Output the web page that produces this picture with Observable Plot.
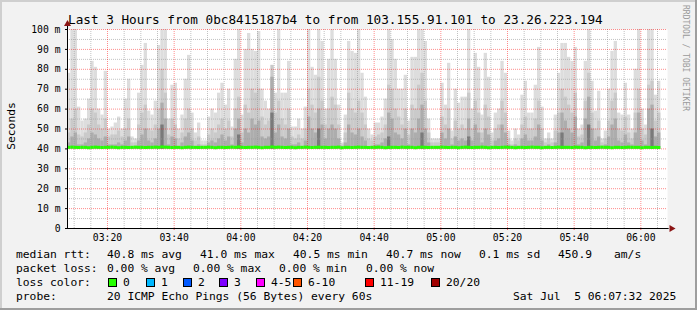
<!DOCTYPE html>
<html><head><meta charset="utf-8">
<script src="https://cdn.jsdelivr.net/npm/d3@7"></script>
<script src="https://cdn.jsdelivr.net/npm/@observablehq/plot@0.6"></script>
<style>
html,body{margin:0;padding:0;background:#f2f2f2;}
#chart svg{display:block}
</style></head><body><div id="chart"></div>
<script>
// ---- data (ms) one column per minute starting 03:08 ----
const startTime = new Date(Date.UTC(2025, 6, 5, 3, 8));
const endTime = new Date(Date.UTC(2025, 6, 5, 6, 8));
const pingTop = [
78,100,100,61,54,55,65,84,81,60,57,79,50,51,53,56,50,65,75,46,45,68,82,93,59,57,64,92,100,100,
55,72,73,50,57,75,87,58,48,53,44,44,56,60,58,68,73,62,70,51,85,100,57,90,98,90,89,99,70,64,
60,75,68,100,68,68,84,51,51,55,50,61,100,81,77,100,94,60,85,100,85,62,43,57,94,89,88,100,78,66,
50,47,53,53,56,65,100,95,85,70,70,77,54,86,86,100,100,94,55,45,45,45,73,62,83,49,70,63,66,66,
100,60,88,81,57,88,76,48,58,60,84,78,49,44,50,47,67,74,58,58,72,91,61,45,48,45,57,78,93,93,
86,84,91,50,52,84,100,74,59,69,45,49,70,89,94,58,57,73,57,50,80,100,60,52,100,100,67,74];
const pingMid = [
48,55,60,47,46,48,52,60,58,52,50,55,46,47,47,49,46,50,55,43,43,52,58,62,50,49,52,60,80,68,
47,55,52,45,48,55,60,50,44,46,42,42,47,50,48,52,55,50,54,46,60,66,48,62,58,70,68,70,56,52,
54,82,58,64,55,52,60,46,45,47,45,50,70,62,58,76,64,52,60,66,62,52,42,48,68,60,58,64,58,52,
45,44,46,47,48,52,72,70,60,56,52,60,47,62,60,72,78,64,48,43,43,43,56,52,60,45,54,50,52,50,
68,50,64,58,48,62,56,44,50,52,64,58,45,42,45,44,52,56,50,50,55,64,50,43,45,43,49,58,70,66,
62,58,68,46,47,64,78,58,50,54,43,45,54,64,68,50,49,56,48,45,58,70,50,47,72,74,54,58];
const pingDark = [
43,46,48,42,42,43,45,48,47,45,44,46,42,42,42,43,42,44,46,41,41,44,47,50,44,43,45,50,63,55,
42,46,45,41,43,46,48,44,41,42,41,41,43,44,43,45,47,44,46,42,50,55,43,50,48,55,52,54,46,45,
46,76,48,52,46,45,50,42,42,43,41,44,56,50,48,60,52,45,50,52,50,45,41,43,52,48,47,50,46,44,
41,41,42,42,43,45,58,55,48,47,45,50,42,50,48,55,62,50,43,41,41,41,48,45,50,42,46,44,45,44,
55,44,52,48,43,50,47,41,44,45,52,48,42,41,42,41,45,47,44,44,46,52,44,41,42,41,43,48,58,54,
50,48,56,42,43,55,66,50,44,46,41,42,46,52,55,44,43,47,43,42,48,58,44,42,60,62,46,48];
const darkCore = [[28,52],[51,47],[61,58],[75,50],[96,46],[106,48],[120,46],[148,48],[156,52],[175,50]];
const medianRtt = [
40.8,40.9,40.8,40.7,40.8,40.8,40.6,40.8,40.9,40.8,40.7,40.8,40.8,40.9,40.8,40.6,40.8,40.8,40.7,40.8,40.9,40.8,40.8,40.7,40.8,40.8,40.9,40.8,41.0,40.9,
40.8,40.7,40.8,40.8,40.6,40.8,40.9,40.8,40.8,40.7,40.8,40.8,40.9,40.8,40.6,40.8,40.8,40.7,40.8,40.9,40.8,41.0,40.8,40.7,40.8,40.8,40.9,40.8,40.6,40.8,
40.8,41.0,40.8,40.9,40.8,40.7,40.8,40.8,40.6,40.8,40.8,40.9,40.8,40.7,40.8,40.9,40.8,40.8,40.7,40.8,40.8,40.9,40.6,40.8,40.8,40.7,40.8,40.9,40.8,40.8,
40.7,40.8,40.8,40.9,40.8,40.6,40.8,40.8,40.8,40.7,40.9,40.8,40.8,40.8,40.6,40.8,40.9,40.8,40.7,40.8,40.8,40.8,40.9,40.8,40.7,40.8,40.8,40.6,40.8,40.9,
40.8,40.7,40.8,40.8,40.9,40.8,40.6,40.8,40.8,40.7,40.8,40.9,40.8,40.8,40.6,40.8,40.8,40.7,40.8,40.9,40.8,40.8,40.6,40.8,40.8,40.7,40.8,40.9,40.8,40.8,
40.8,40.7,40.9,40.8,40.8,40.6,40.8,40.8,40.7,40.8,40.9,40.8,40.8,40.6,40.8,40.8,40.7,40.8,40.9,40.8,40.8,40.8,40.6,40.8,40.8,40.7,40.8,40.7];
const smokeFloor = 39.8;

const yTicks = [0,10,20,30,40,50,60,70,80,90,100];
const yTickLabels = ["0","10 m","20 m","30 m","40 m","50 m","60 m","70 m","80 m","90 m","100 m"];
const xTickLabels = ["03:20","03:40","04:00","04:20","04:40","05:00","05:20","05:40","06:00"];

const titleText = "Last 3 Hours from 0bc8415187b4 to from 103.155.91.101 to 23.26.223.194";
const statLines = [
  [["median rtt:",16],["40.8 ms avg",107],["41.0 ms max",200],["40.5 ms min",293],["40.7 ms now",386],["0.1 ms sd",479],["450.9",558],["am/s",614]],
  [["packet loss:",16],["0.00 % avg",107],["0.00 % max",193],["0.00 % min",279],["0.00 % now",366]],
  [["loss color:",16]],
  [["probe:",16],["20 ICMP Echo Pings (56 Bytes) every 60s",107],["Sat Jul  5 06:07:32 2025",513]]
];
const lossLabels = ["0","1","2","3","4-5","6-10","11-19","20/20"];
const lossColors = ["#26ff00","#00b8ff","#0059ff","#7e00ff","#ff00ff","#ff5500","#ff0000","#a10000"];
const lossBoxX = [108,146,183,219,256,293,365,431];

// ---- build rows ----
const minute = 60000;
const rows = pingTop.map((top, i) => ({
  t0: new Date(+startTime + i * minute),
  t1: new Date(+startTime + (i + 1) * minute),
  top, mid: pingMid[i], dark: pingDark[i], median: medianRtt[i]
}));
const coreRows = darkCore.map(([i, v]) => ({t0: rows[i].t0, t1: rows[i].t1, v}));
const xTickDates = xTickLabels.map(s => { const [h, m] = s.split(":").map(Number); return new Date(Date.UTC(2025, 6, 5, h, m)); });
const minorX = d3.utcMinute.every(5).range(new Date(+startTime + minute), endTime).filter(d => d.getUTCMinutes() % 20 !== 0);
const minorY = [5,15,25,35,45,55,65,75,85,95];
const majorY = [10,20,30,40,50,60,70,80,90,100];

const plot = Plot.plot({
  width: 697, height: 310,
  marginLeft: 67, marginRight: 30, marginTop: 29, marginBottom: 82,
  style: {fontFamily: "DejaVu Sans Mono", fontSize: "9.75px", background: "#f2f2f2", color: "#000"},
  x: {type: "utc", domain: [startTime, endTime]},
  y: {domain: [0, 100]},
  marks: [
    Plot.frame({fill: "white", stroke: null}),
    Plot.rectY(rows, {x1: "t0", x2: "t1", y1: smokeFloor, y2: "top", fill: "#dddddd", clip: true}),
    Plot.rectY(rows, {x1: "t0", x2: "t1", y1: smokeFloor, y2: "mid", fill: "#cacaca", clip: true}),
    Plot.rectY(rows, {x1: "t0", x2: "t1", y1: smokeFloor, y2: "dark", fill: "#adadad", clip: true}),
    Plot.rectY(coreRows, {x1: "t0", x2: "t1", y1: smokeFloor, y2: "v", fill: "#7a7a7a", clip: true}),
    Plot.ruleX(minorX, {stroke: "#9a9a9a", strokeOpacity: 0.6, strokeDasharray: "1,1"}),
    Plot.ruleY(minorY, {stroke: "#9a9a9a", strokeOpacity: 0.6, strokeDasharray: "1,1"}),
    Plot.ruleX(xTickDates, {stroke: "#ff0000", strokeOpacity: 0.45, strokeDasharray: "1,1"}),
    Plot.ruleY(majorY, {stroke: "#ff0000", strokeOpacity: 0.45, strokeDasharray: "1,1"}),
    Plot.ruleY(rows, {y: "median", x1: "t0", x2: "t1", stroke: "#26ff00", strokeWidth: 3}),
    Plot.axisY(yTicks, {tickFormat: (d) => yTickLabels[yTicks.indexOf(d)], tickSize: 2, tickPadding: 5, fontSize: 9.75, stroke: "#000"}),
    Plot.axisX(xTickDates, {tickFormat: (d) => xTickLabels[xTickDates.findIndex(t => +t === +d)], tickSize: 2, tickPadding: 4, fontSize: 9.75, stroke: "#ff0000", strokeOpacity: 0.6}),
    Plot.ruleX([startTime], {y1: 0, y2: 102.5, stroke: "#000"}),
    Plot.ruleY([0], {x1: startTime, x2: new Date(+endTime + 0.5 * minute), stroke: "#000"}),
    Plot.dot([{x: startTime, y: 102.8}], {x: "x", y: "y", symbol: "triangle", r: 2.6, fill: "#8b1414", stroke: null}),
    Plot.dot([{x: new Date(+endTime + 1.2 * minute), y: 0}], {x: "x", y: "y", symbol: "triangle", r: 2.6, rotate: 90, fill: "#8b1414", stroke: null})
  ]
});
document.getElementById("chart").appendChild(plot);

const svg = d3.select(plot);
// 3D frame
svg.append("rect").attr("x", 0).attr("y", 0).attr("width", 697).attr("height", 2).attr("fill", "#cfcfcf");
svg.append("rect").attr("x", 0).attr("y", 0).attr("width", 2).attr("height", 310).attr("fill", "#cfcfcf");
svg.append("rect").attr("x", 0).attr("y", 308).attr("width", 697).attr("height", 2).attr("fill", "#9e9e9e");
svg.append("rect").attr("x", 695).attr("y", 0).attr("width", 2).attr("height", 310).attr("fill", "#9e9e9e");

const mono = "DejaVu Sans Mono";
const g = svg.append("g").attr("text-anchor", "start").attr("font-family", mono).attr("fill", "#000");
g.append("text").attr("x", 68).attr("y", 24).attr("font-size", "12.7px").text(titleText);
g.append("text").attr("transform", "translate(15,126) rotate(-90)").attr("text-anchor", "middle")
  .attr("font-size", "11.3px").text("Seconds");
g.append("text").attr("transform", "translate(683,5) rotate(90)")
  .attr("font-size", "8px").attr("fill", "#9a9a9a").text("RRDTOOL / TOBI OETIKER");

const baselines = [258, 272, 286, 300];
statLines.forEach((line, li) => {
  line.forEach(([txt, x]) => {
    g.append("text").attr("x", x).attr("y", baselines[li])
      .attr("font-size", "11.3px").style("white-space", "pre").text(txt);
  });
});
lossLabels.forEach((lab, i) => {
  g.append("rect").attr("x", lossBoxX[i] + 0.5).attr("y", 278.5).attr("width", 8).attr("height", 8)
    .attr("fill", lossColors[i]).attr("stroke", "#000").attr("stroke-width", 1);
  g.append("text").attr("x", lossBoxX[i] + 15).attr("y", 286)
    .attr("font-size", "11.3px").text(lab);
});
</script></body></html>
